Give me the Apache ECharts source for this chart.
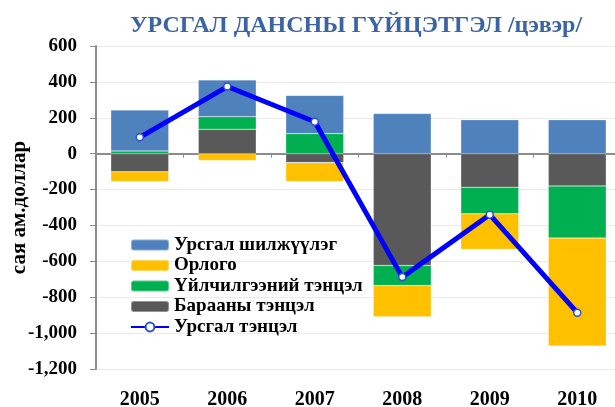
<!DOCTYPE html>
<html>
<head>
<meta charset="utf-8">
<script src="https://cdn.jsdelivr.net/npm/echarts@6/dist/echarts.min.js"></script>
<style>
  html, body { margin: 0; padding: 0; background: #fff; }
  #chart { width: 615px; height: 407px; }
</style>
</head>
<body>
<div id="chart"></div>
<script>
const years = ['2005', '2006', '2007', '2008', '2009', '2010'];
const goodsBalance = [-101, 136, -50, -623, -187, -180];
const servicesBalance = [15, 70, 112, -112, -148, -290];
const income = [-54, -38, -105, -174, -198, -602];
const transfers = [228, 205, 213, 224, 189, 189];
const currentBalance = [91, 374, 178, -688, -340, -886];

const serif = '"Liberation Serif", "DejaVu Serif", serif';

const chart = echarts.init(document.getElementById('chart'));

const barSeries = (name, data, color) => ({
  name: name,
  type: 'bar',
  stack: 'total',
  barWidth: 58,
  data: data,
  itemStyle: { color: color, borderColor: 'rgba(255,255,255,0.35)', borderWidth: 0.6 },
});

chart.setOption({
  animation: false,
  title: {
    text: 'УРСГАЛ ДАНСНЫ ГҮЙЦЭТГЭЛ /цэвэр/',
    left: 351,
    textAlign: 'center',
    top: 9,
    textStyle: { fontFamily: serif, fontSize: 24, fontWeight: 'bold', color: '#3b64a4' },
  },
  legend: {
    orient: 'vertical',
    left: 125,
    top: 230,
    itemWidth: 38,
    itemHeight: 11,
    itemGap: 0.5,
    data: ['Урсгал шилжүүлэг', 'Орлого', 'Үйлчилгээний тэнцэл', 'Барааны тэнцэл', 'Урсгал тэнцэл'],
    textStyle: { fontFamily: serif, fontSize: 19, lineHeight: 20, fontWeight: 'bold', color: '#000' },
  },
  grid: { left: 96, right: -6, top: 46, bottom: 38, outerBoundsMode: 'none', containLabel: false },
  xAxis: [
    {
      type: 'category',
      data: years,
      axisLine: { show: false, onZero: false },
      axisTick: { show: false },
      axisLabel: { fontFamily: serif, fontSize: 20, fontWeight: 'bold', color: '#000', margin: 21 },
    },
    {
      type: 'category',
      data: years,
      position: 'bottom',
      axisLine: { show: true, onZero: true, lineStyle: { color: '#8c8c8c', width: 2 } },
      axisTick: { show: true, length: 4, lineStyle: { color: '#8c8c8c' } },
      axisLabel: { show: false },
    },
  ],
  yAxis: {
    type: 'value',
    min: -1200,
    max: 600,
    interval: 200,
    name: 'сая ам.доллар',
    nameLocation: 'middle',
    nameGap: 66,
    nameMoveOverlap: false,
    nameTextStyle: { fontFamily: serif, fontSize: 21, fontWeight: 'bold', color: '#000' },
    axisLine: { show: true, lineStyle: { color: '#8c8c8c', width: 2 } },
    axisTick: { show: true, length: 6, lineStyle: { color: '#8c8c8c' } },
    splitLine: { lineStyle: { color: '#ebebeb' } },
    axisLabel: {
      fontFamily: serif, fontSize: 19, fontWeight: 'bold', color: '#000', margin: 19,
      formatter: v => (v < 0 ? '-' : '') + Math.abs(v).toLocaleString('en-US'),
    },
  },
  series: [
    barSeries('Барааны тэнцэл', goodsBalance, '#595959'),
    barSeries('Үйлчилгээний тэнцэл', servicesBalance, '#00b050'),
    barSeries('Орлого', income, '#ffc000'),
    barSeries('Урсгал шилжүүлэг', transfers, '#4f81bd'),
    {
      name: 'Урсгал тэнцэл',
      type: 'line',
      data: currentBalance,
      symbol: 'circle',
      symbolSize: 7,
      lineStyle: { color: '#0000ff', width: 5 },
      itemStyle: { color: '#ffffff', borderColor: '#2a52c8', borderWidth: 1.5 },
      z: 5,
    },
  ],
});
</script>
</body>
</html>
